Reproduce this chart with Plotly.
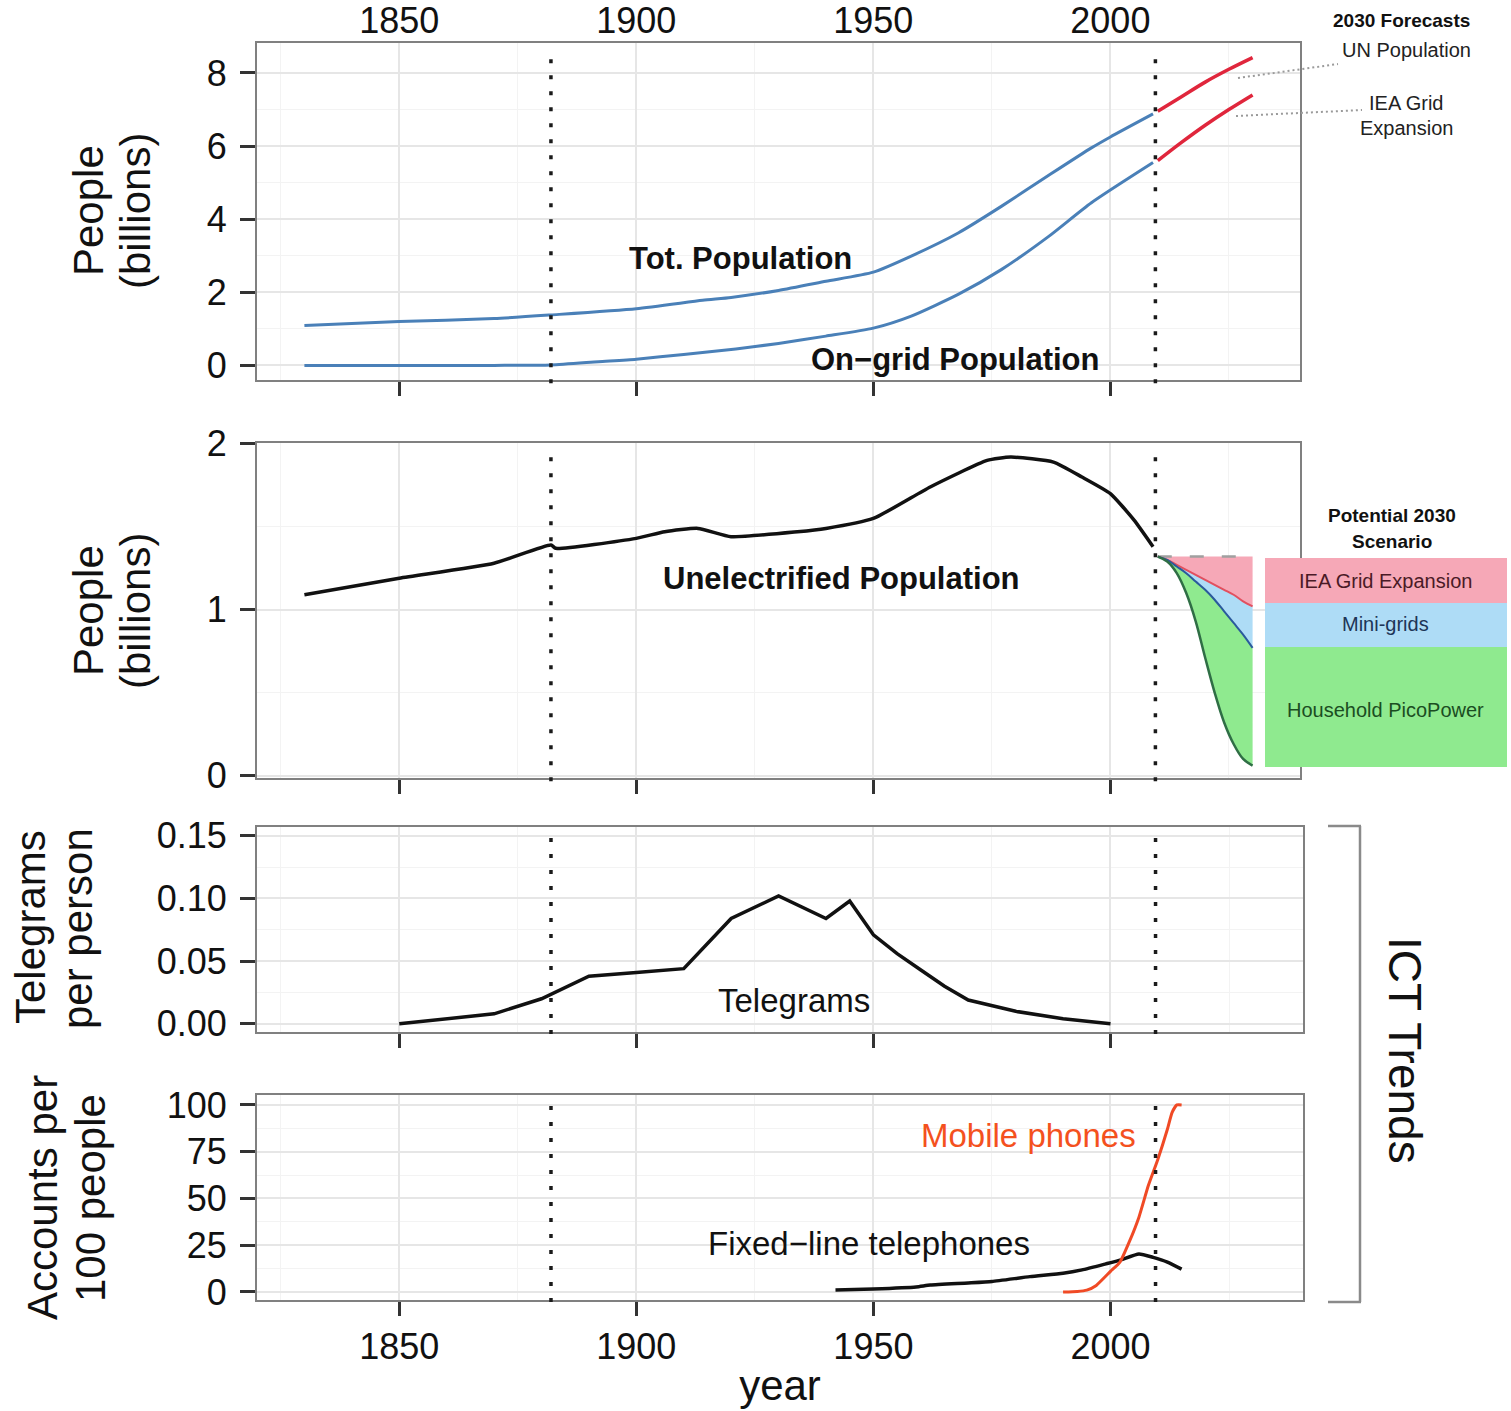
import plotly.graph_objects as go

FONT = "Liberation Sans, Arial, Helvetica, sans-serif"
W, H = 1511, 1411

# ---- data ---------------------------------------------------------------
pop_years = [1830, 1850, 1870, 1882, 1900, 1914, 1920, 1930, 1940, 1950, 1958, 1968, 1977, 1987, 1996, 2000, 2009]
total_pop = [1.09, 1.20, 1.28, 1.38, 1.55, 1.78, 1.86, 2.05, 2.30, 2.55, 2.99, 3.63, 4.35, 5.20, 5.95, 6.25, 6.88]

grid_years = [1830, 1850, 1870, 1882, 1892, 1900, 1910, 1921, 1930, 1940, 1950, 1958, 1968, 1977, 1987, 1996, 2009]
grid_pop = [0.0, 0.0, 0.0, 0.01, 0.10, 0.17, 0.30, 0.45, 0.60, 0.80, 1.02, 1.35, 1.95, 2.62, 3.53, 4.45, 5.55]

fc_years = [2010, 2015, 2020, 2025, 2030]
un_forecast = [6.95, 7.35, 7.75, 8.10, 8.42]
iea_forecast = [5.60, 6.10, 6.57, 7.00, 7.40]

unelec_years = [1830, 1850, 1870, 1882, 1883, 1900, 1906, 1913, 1920, 1934, 1940, 1950, 1962, 1974, 1979, 1988, 1994, 2000, 2005, 2009]
unelec_pop = [1.09, 1.19, 1.28, 1.39, 1.37, 1.43, 1.47, 1.49, 1.44, 1.47, 1.49, 1.55, 1.74, 1.90, 1.92, 1.89, 1.80, 1.70, 1.54, 1.38]

scen_years = [2010, 2012, 2014, 2016, 2018, 2020, 2022, 2024, 2026, 2028, 2030]
scen_base = [1.32] * 11
scen_grid = [1.32, 1.30, 1.27, 1.24, 1.21, 1.18, 1.15, 1.12, 1.09, 1.05, 1.02]
scen_minigrid = [1.32, 1.30, 1.26, 1.22, 1.17, 1.12, 1.06, 0.99, 0.92, 0.85, 0.77]
scen_pico = [1.32, 1.29, 1.22, 1.10, 0.93, 0.71, 0.50, 0.32, 0.19, 0.10, 0.06]

tele_years = [1850, 1870, 1880, 1890, 1900, 1910, 1920, 1930, 1940, 1945, 1950, 1955, 1960, 1965, 1970, 1980, 1990, 2000]
tele_per_person = [0.0, 0.008, 0.020, 0.038, 0.041, 0.044, 0.084, 0.102, 0.084, 0.098, 0.071, 0.056, 0.043, 0.030, 0.019, 0.010, 0.004, 0.0]

fixed_years = [1942, 1950, 1959, 1962, 1970, 1975, 1983, 1990, 1994, 1999, 2002, 2006, 2009, 2012, 2015]
fixed_lines = [1.0, 1.6, 2.7, 3.7, 4.8, 5.6, 8.2, 10.0, 11.8, 15.0, 17.0, 20.3, 18.5, 16.0, 12.2]

mobile_years = [1990, 1993, 1995, 1997, 2000, 2002, 2004, 2006, 2008, 2010, 2012, 2013, 2014, 2015]
mobile_accounts = [0.0, 0.3, 1.0, 3.5, 11, 16, 27, 40, 57, 71, 87, 96, 100, 100]

year_ticks = [1850, 1900, 1950, 2000]
year_minor = [1825, 1875, 1925, 1975, 2025]
milestones = [1882, 2009.5]

# ---- helpers ------------------------------------------------------------
def px_x(p):
    return p / W


def px_y(p):
    return 1 - p / H


BLUE = "#4a80b8"
RED = "#e0263c"
INK = "#111111"
BORDER = "#808080"

fig = go.Figure()

# Panel 1: population
fig.add_trace(go.Scatter(x=pop_years, y=total_pop, mode="lines", line=dict(color=BLUE, width=3, shape="spline", smoothing=0.6), xaxis="x", yaxis="y"))
fig.add_trace(go.Scatter(x=grid_years, y=grid_pop, mode="lines", line=dict(color=BLUE, width=3, shape="spline", smoothing=0.6), xaxis="x", yaxis="y"))
fig.add_trace(go.Scatter(x=fc_years, y=un_forecast, mode="lines", line=dict(color=RED, width=3.5, shape="spline"), xaxis="x", yaxis="y"))
fig.add_trace(go.Scatter(x=fc_years, y=iea_forecast, mode="lines", line=dict(color=RED, width=3.5, shape="spline"), xaxis="x", yaxis="y"))
# carrier trace for the top year axis
fig.add_trace(go.Scatter(x=[pop_years[0]], y=[total_pop[0]], mode="markers", marker=dict(opacity=0), hoverinfo="skip", xaxis="x5", yaxis="y"))

# Panel 2: unelectrified population and 2030 scenario
fig.add_trace(go.Scatter(x=unelec_years, y=unelec_pop, mode="lines", line=dict(color="#111111", width=3.5, shape="spline", smoothing=0.5), xaxis="x2", yaxis="y2"))
fig.add_trace(go.Scatter(x=scen_years, y=scen_base, mode="lines", line=dict(color="#a0a0a0", width=2.5, dash="14px,18px"), xaxis="x2", yaxis="y2"))
fig.add_trace(go.Scatter(x=scen_years, y=scen_grid, mode="lines", fill="tonexty", fillcolor="#f6a8b7", line=dict(color="#e2505f", width=2, shape="spline"), xaxis="x2", yaxis="y2"))
fig.add_trace(go.Scatter(x=scen_years, y=scen_minigrid, mode="lines", fill="tonexty", fillcolor="#aedcf6", line=dict(color="#2a5a9c", width=2, shape="spline"), xaxis="x2", yaxis="y2"))
fig.add_trace(go.Scatter(x=scen_years, y=scen_pico, mode="lines", fill="tonexty", fillcolor="#8fea8f", line=dict(color="#2f6e45", width=2.5, shape="spline"), xaxis="x2", yaxis="y2"))

# Panel 3: telegrams
fig.add_trace(go.Scatter(x=tele_years, y=tele_per_person, mode="lines", line=dict(color="#111111", width=3.5), xaxis="x3", yaxis="y3"))

# Panel 4: telephones
fig.add_trace(go.Scatter(x=fixed_years, y=fixed_lines, mode="lines", line=dict(color="#111111", width=3.5, shape="spline", smoothing=0.5), xaxis="x4", yaxis="y4"))
fig.add_trace(go.Scatter(x=mobile_years, y=mobile_accounts, mode="lines", line=dict(color="#f04a25", width=3, shape="spline", smoothing=0.5), xaxis="x4", yaxis="y4"))

# ---- axes ---------------------------------------------------------------
def x_axis(dom_right, anchor, rng, labels):
    return dict(
        domain=[px_x(257), px_x(dom_right)], anchor=anchor, range=rng, automargin=False,
        tickmode="array", tickvals=year_ticks, ticks="outside", ticklen=14, tickwidth=2.5,
        tickcolor="#333333", showticklabels=labels, ticklabelstandoff=0,
        tickfont=dict(family=FONT, size=36, color=INK),
        showgrid=True, gridcolor="#e6e6e6", gridwidth=1.5,
        minor=dict(tickmode="array", tickvals=year_minor, showgrid=True, gridcolor="#f3f3f3", gridwidth=1),
        showline=True, linecolor=BORDER, linewidth=2, mirror=True, zeroline=False,
    )


def y_axis(top, bottom, anchor, rng, ticks, minor, text=None):
    ax = dict(
        domain=[px_y(bottom), px_y(top)], anchor=anchor, range=rng, automargin=False,
        tickmode="array", tickvals=ticks, ticks="outside", ticklen=15, tickwidth=2.5,
        tickcolor="#333333", ticklabelstandoff=6,
        tickfont=dict(family=FONT, size=36, color=INK),
        showgrid=True, gridcolor="#e6e6e6", gridwidth=1.5,
        minor=dict(tickmode="array", tickvals=minor, showgrid=True, gridcolor="#f3f3f3", gridwidth=1),
        showline=True, linecolor=BORDER, linewidth=2, mirror=True, zeroline=False,
    )
    if text is not None:
        ax["ticktext"] = text
    return ax


layout = dict(
    width=W, height=H, autosize=False,
    margin=dict(l=0, r=0, t=0, b=0, autoexpand=False),
    paper_bgcolor="white", plot_bgcolor="white",
    showlegend=False,
    font=dict(family=FONT, color=INK),
    xaxis=x_axis(1300, "y", [1820, 2040], False),
    xaxis2=x_axis(1300, "y2", [1820, 2040], False),
    xaxis3=x_axis(1303, "y3", [1820, 2040.6], False),
    xaxis4=x_axis(1303, "y4", [1820, 2040.6], True),
    xaxis5=dict(
        overlaying="x", anchor="y", side="top", range=[1820, 2040], automargin=False,
        tickmode="array", tickvals=year_ticks, ticks="", showgrid=False, showline=False,
        zeroline=False, ticklabelstandoff=2,
        tickfont=dict(family=FONT, size=36, color=INK),
    ),
    yaxis=y_axis(43, 380, "x", [-0.4, 8.82], [0, 2, 4, 6, 8], [1, 3, 5, 7]),
    yaxis2=y_axis(443, 778, "x2", [-0.015, 2.005], [0, 1, 2], [0.5, 1.5]),
    yaxis3=y_axis(827, 1032, "x3", [-0.0065, 0.157], [0, 0.05, 0.10, 0.15], [0.025, 0.075, 0.125],
                  ["0.00", "0.05", "0.10", "0.15"]),
    yaxis4=y_axis(1095, 1300, "x4", [-4.3, 105.3], [0, 25, 50, 75, 100], [12.5, 37.5, 62.5, 87.5]),
)
layout["xaxis4"]["title"] = dict(text="year", font=dict(family=FONT, size=42, color=INK), standoff=4)
fig.update_layout(**layout)

# ---- shapes -------------------------------------------------------------
shapes = []
for xr, yr in [("x", "y"), ("x2", "y2"), ("x3", "y3"), ("x4", "y4")]:
    for m in milestones:
        shapes.append(dict(type="line", xref=xr, yref=yr + " domain", x0=m, x1=m, y0=-0.01, y1=0.98,
                           line=dict(color="#1a1a1a", width=3.5, dash="4px,12px"), layer="above"))

# leader lines to the forecast labels
shapes.append(dict(type="line", xref="paper", yref="paper", x0=px_x(1238), y0=px_y(78), x1=px_x(1338), y1=px_y(64),
                   line=dict(color="#9a9a9a", width=2, dash="2px,3px")))
shapes.append(dict(type="line", xref="paper", yref="paper", x0=px_x(1236), y0=px_y(116), x1=px_x(1362), y1=px_y(110),
                   line=dict(color="#9a9a9a", width=2, dash="2px,3px")))

# scenario key boxes
for top, bottom, col in [(558, 603, "#f6a8b7"), (603, 647, "#aedcf6"), (647, 767, "#8fea8f")]:
    shapes.append(dict(type="rect", xref="paper", yref="paper", x0=px_x(1265), x1=px_x(1507),
                       y0=px_y(bottom), y1=px_y(top), fillcolor=col, line=dict(width=0)))

# ICT bracket
BR = "#8a8a8a"
shapes.append(dict(type="line", xref="paper", yref="paper", x0=px_x(1360), x1=px_x(1360), y0=px_y(1302), y1=px_y(826), line=dict(color=BR, width=2.5)))
shapes.append(dict(type="line", xref="paper", yref="paper", x0=px_x(1328), x1=px_x(1361), y0=px_y(826), y1=px_y(826), line=dict(color=BR, width=2.5)))
shapes.append(dict(type="line", xref="paper", yref="paper", x0=px_x(1328), x1=px_x(1361), y0=px_y(1302), y1=px_y(1302), line=dict(color=BR, width=2.5)))
fig.update_layout(shapes=shapes)

# ---- text ---------------------------------------------------------------
ann = []


def label(text, x, y, size, color=INK, bold=False, angle=0):
    t = f"<b>{text}</b>" if bold else text
    ann.append(dict(text=t, xref="paper", yref="paper", x=px_x(x), y=px_y(y), xanchor="center", yanchor="middle",
                    showarrow=False, textangle=angle, font=dict(family=FONT, size=size, color=color)))


# axis titles
label("People", 88, 211, 42, angle=-90)
label("(billions)", 135, 211, 42, angle=-90)
label("People", 88, 611, 42, angle=-90)
label("(billions)", 135, 611, 42, angle=-90)
label("Telegrams", 30, 927, 42, angle=-90)
label("per person", 77, 929, 42, angle=-90)
label("Accounts per", 42, 1198, 42, angle=-90)
label("100 people", 90, 1198, 42, angle=-90)

# series labels
label("Tot. Population", 740, 258, 31, bold=True)
label("On\u2212grid Population", 955, 360, 31, bold=True)
label("Unelectrified Population", 841, 578, 31, bold=True)
label("Telegrams", 794, 1000, 33)
label("Fixed\u2212line telephones", 869, 1243, 33)
label("Mobile phones", 1028, 1135, 33, color="#f4511e")

# forecast notes
label("2030 Forecasts", 1401, 20, 19, bold=True)
label("UN Population", 1406, 50, 20, color="#222222")
label("IEA Grid", 1406, 103, 20, color="#222222")
label("Expansion", 1406, 128, 20, color="#222222")

# scenario key
label("Potential 2030", 1392, 515, 19, bold=True)
label("Scenario", 1392, 541, 19, bold=True)
label("IEA Grid Expansion", 1385, 581, 20, color="#4a1a26")
label("Mini-grids", 1385, 624, 20, color="#1d3557")
label("Household PicoPower", 1385, 710, 20, color="#1b4d22")

# bracket label
label("ICT Trends", 1405, 1050, 46, angle=90)

fig.update_layout(annotations=ann)

fig.write_html("out.html")
